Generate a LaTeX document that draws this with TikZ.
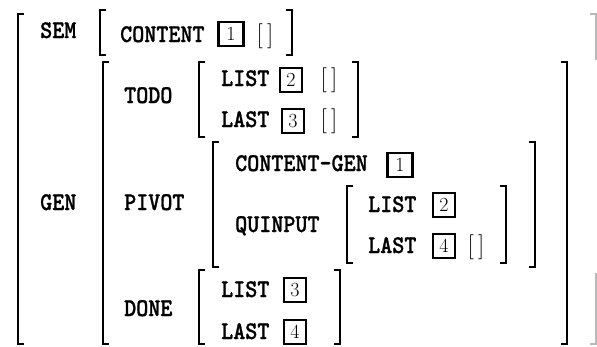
\documentclass[tikz,border=0pt]{standalone}
\usepackage{fontspec}
\newfontfamily\avmtt{lmmonolt10-bold}[Extension=.otf, FakeBold=1.0, FakeStretch=0.9]
\newcommand\avmL[3]{\draw[brk] (#1+6,#2) -- (#1,#2) -- (#1,#3) -- (#1+6,#3);}
\newcommand\avmR[3]{\draw[brk] (#1-6,#2) -- (#1,#2) -- (#1,#3) -- (#1-6,#3);}
\begin{document}
\begin{tikzpicture}[x=1pt,y=-1pt,
  attr/.style={font=\avmtt\fontsize{25.5}{30}\selectfont, inner sep=0pt, anchor=base west},
  tag/.style={draw, line width=2.2pt, minimum width=22pt, minimum height=24pt, inner sep=0pt, font=\fontsize{20}{20}\selectfont},
  tagw/.style={tag, minimum width=25pt},
  emptyv/.style={font=\fontsize{25}{25}\selectfont, inner sep=0pt, anchor=base},
  brk/.style={line width=2.4pt, line join=miter}]
\useasboundingbox (0,0) rectangle (597,346);
% brackets
\avmL{18}{14}{344}
\draw[brk, gray!55] (590,14) -- (596,14) -- (596,60);
\draw[brk, gray!55] (596,273) -- (596,344) -- (590,344);
\avmL{100}{10}{55} \avmR{292}{10}{55}
\avmL{103}{62}{344} \avmR{567}{62}{344}
\avmL{199}{62}{137} \avmR{358}{62}{137}
\avmL{213}{142}{267} \avmR{535}{142}{267}
\avmL{347}{186}{263} \avmR{506}{186}{263}
\avmL{199}{270}{344} \avmR{340}{270}{344}
% top
\node[attr] (sem) at (40,38) {SEM};
\node[attr] (content) at (120,42) {CONTENT};
\node[tagw] (t1a) at (231,34) {1};
\node[emptyv] (e1) at (265,42) {[\,]};
% GEN
\node[attr] (gen) at (40,210) {GEN};
\node[attr] (todo) at (124,103) {TODO};
\node[attr] (tlist) at (221,86) {LIST};
\node[tag] (t2a) at (291,80) {2};
\node[emptyv] (e2) at (329,86) {[\,]};
\node[attr] (tlast) at (221,127) {LAST};
\node[tag] (t3a) at (293,121) {3};
\node[emptyv] (e3) at (329,127) {[\,]};
\node[attr] (pivot) at (124,210) {PIVOT};
\node[attr] (cgen) at (235,171) {CONTENT-GEN};
\node[tagw] (t1b) at (400,165) {1};
\node[attr] (quin) at (235,232) {QUINPUT};
\node[attr] (qlist) at (368,212) {LIST};
\node[tag] (t2b) at (444,205) {2};
\node[attr] (qlast) at (368,253) {LAST};
\node[tag] (t4a) at (444,246) {4};
\node[emptyv] (e4) at (476,253) {[\,]};
\node[attr] (done) at (124,316) {DONE};
\node[attr] (dlist) at (221,297) {LIST};
\node[tag] (t3b) at (295,290) {3};
\node[attr] (dlast) at (221,339) {LAST};
\node[tag] (t4b) at (295,332) {4};
\end{tikzpicture}
\end{document}
